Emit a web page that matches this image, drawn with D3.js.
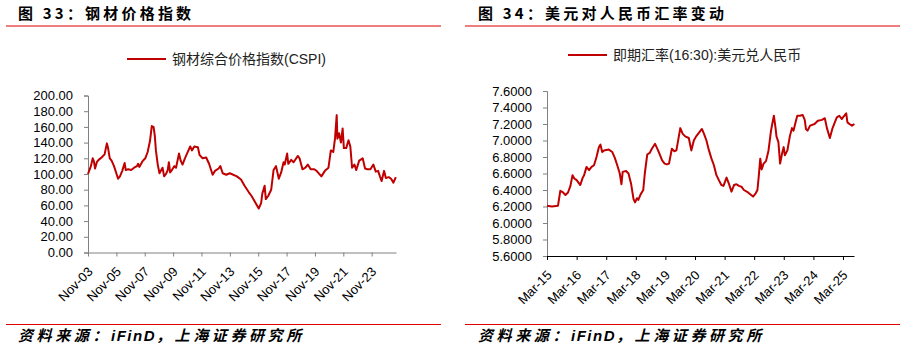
<!DOCTYPE html>
<html>
<head>
<meta charset="utf-8">
<script src="https://cdn.jsdelivr.net/npm/d3@7/dist/d3.min.js"></script>
<style>
  body { margin: 0; background: #fff; }
  svg { display: block; }
  .tick text { font-family: "Liberation Sans", Arial, sans-serif; font-size: 13px; fill: #000; }
  .title { font-family: "Noto Sans CJK SC", sans-serif; font-weight: bold; font-size: 15px; letter-spacing: 3.2px; fill: #000; }
  .legend { font-family: "Liberation Sans", "Noto Sans CJK SC", sans-serif; font-size: 14px; fill: #222; }
  .source { font-family: "Liberation Sans", "Noto Sans CJK SC", sans-serif; font-weight: bold; font-style: italic; font-size: 15px; letter-spacing: 3.6px; fill: #000; }
  .source .latin { letter-spacing: 1.5px; }
</style>
</head>
<body>
<svg id="chart" width="905" height="351"></svg>
<script>

// 钢材综合价格指数(CSPI)
var cspiDates = ["2003-11-01","2004-01-15","2004-03-01","2004-04-01","2004-05-01","2004-06-15","2004-08-01","2004-10-15",
  "2005-01-01","2005-03-01","2005-04-01","2005-05-15","2005-07-01","2005-09-01","2005-12-15","2006-02-01","2006-04-01",
  "2006-06-01","2006-07-01","2006-09-01","2006-11-15","2007-02-01","2007-04-15","2007-05-15","2007-06-15","2007-09-01",
  "2007-11-15","2008-01-15","2008-03-15","2008-05-01","2008-06-15","2008-07-15","2008-08-15","2008-10-01","2008-11-15",
  "2009-02-01","2009-03-15","2009-05-01","2009-06-15","2009-07-15","2009-08-15","2009-10-01","2009-12-01","2010-01-15",
  "2010-04-01","2010-05-15","2010-07-01","2010-09-01","2010-12-01","2011-01-15","2011-03-01","2011-05-01","2011-08-01",
  "2011-09-15","2011-12-01","2012-03-01","2012-05-15","2012-08-15","2012-10-15","2013-01-15","2013-03-01","2013-05-01",
  "2013-08-01","2013-11-01","2014-05-01","2014-08-15","2014-11-15","2015-03-01","2015-05-15","2015-08-15","2015-11-15",
  "2016-01-15","2016-02-15","2016-04-15","2016-05-15","2016-07-15","2016-10-01","2016-12-01","2017-02-01","2017-04-15",
  "2017-06-15","2017-08-15","2017-09-15","2017-11-15","2017-12-15","2018-03-01","2018-05-01","2018-08-15","2018-10-01",
  "2018-12-15","2019-03-01","2019-05-01","2019-07-15","2019-10-15","2019-12-15","2020-04-15","2020-07-15","2020-10-15",
  "2020-12-15","2021-02-15","2021-04-01","2021-05-15","2021-06-01","2021-07-15","2021-09-01","2021-10-15","2021-11-15",
  "2022-01-15","2022-03-15","2022-05-01","2022-06-15","2022-08-15","2022-10-01","2022-12-15","2023-03-15","2023-05-15",
  "2023-07-15","2023-10-01","2023-12-15","2024-02-15","2024-04-15","2024-06-01","2024-07-15","2024-09-15","2024-11-01",
  "2025-01-15","2025-03-15","2025-05-15","2025-07-15"];
var cspiValues = [100,110,120,116,107,115,118,121,
  125,139,133,120,117,110,94,97,104,
  114,105,106,105,108,110,113,109,116,
  120,128,142,161,160,150,130,112,101,
  108,97,100,105,115,102,105,110,108,
  126,117,112,120,130,135,130,135,134,
  124,120,121,113,99,104,107,110,101,
  99,101,97,93,85,77,72,64,56,
  63,75,85,68,72,80,105,110,94,
  102,115,112,126,113,118,115,123,120,
  106,108,112,106,106,104,97,104,108,
  130,128,145,175,145,152,140,158,133,
  133,143,135,108,112,105,117,120,107,
  106,106,112,103,104,97,91,104,95,
  96,94,89,96];

// 即期汇率(16:30):美元兑人民币
var fxDates = ["2015-03-01","2015-05-01","2015-07-15","2015-08-12","2015-09-15","2015-10-15","2015-11-15","2015-12-15",
  "2016-01-10","2016-02-01","2016-03-01","2016-04-15","2016-05-15","2016-06-01","2016-07-01","2016-08-01","2016-09-01",
  "2016-10-01","2016-11-01","2016-12-01","2016-12-20","2017-01-10","2017-02-01","2017-04-01","2017-05-15","2017-06-15",
  "2017-07-15","2017-08-15","2017-09-05","2017-09-20","2017-11-01","2017-12-01","2018-01-01","2018-02-01","2018-02-20",
  "2018-03-15","2018-04-01","2018-05-01","2018-06-01","2018-06-20","2018-07-20","2018-08-20","2018-09-15","2018-10-25",
  "2018-12-01","2019-01-20","2019-02-20","2019-03-20","2019-04-15","2019-05-20","2019-06-20","2019-07-15","2019-09-01",
  "2019-10-01","2019-11-01","2019-12-15","2020-01-15","2020-02-15","2020-03-15","2020-04-15","2020-05-25","2020-06-20",
  "2020-07-20","2020-08-20","2020-09-20","2020-10-20","2020-11-20","2020-12-20","2021-01-20","2021-02-15","2021-03-25",
  "2021-04-25","2021-05-25","2021-06-25","2021-07-25","2021-08-25","2021-09-25","2021-10-25","2021-12-15","2022-02-15",
  "2022-03-20","2022-04-10","2022-04-25","2022-05-15","2022-06-01","2022-06-25","2022-07-25","2022-08-25","2022-09-25",
  "2022-10-10","2022-10-30","2022-11-20","2022-12-01","2022-12-25","2023-01-15","2023-02-10","2023-02-28","2023-03-15",
  "2023-04-15","2023-05-15","2023-06-10","2023-06-30","2023-07-25","2023-08-15","2023-09-15","2023-10-20","2023-11-15",
  "2023-11-30","2023-12-20","2024-01-20","2024-03-15","2024-04-25","2024-06-15","2024-07-20","2024-08-15","2024-09-20",
  "2024-10-20","2024-11-20","2024-12-15","2025-01-15","2025-02-15","2025-03-01","2025-04-10","2025-04-25","2025-05-20",
  "2025-06-20","2025-07-20"];
var fxValues = [6.21,6.20,6.21,6.39,6.37,6.34,6.37,6.45,
  6.58,6.54,6.52,6.46,6.55,6.58,6.68,6.64,6.68,
  6.70,6.80,6.92,6.95,6.86,6.88,6.89,6.86,6.79,
  6.70,6.60,6.47,6.62,6.63,6.60,6.48,6.29,6.25,
  6.30,6.28,6.35,6.40,6.60,6.83,6.85,6.90,6.96,
  6.88,6.76,6.72,6.71,6.72,6.90,6.87,6.88,7.15,
  7.08,7.05,7.03,6.88,7.00,7.05,7.09,7.14,7.08,
  7.00,6.88,6.78,6.70,6.58,6.52,6.46,6.45,6.55,
  6.47,6.38,6.46,6.47,6.45,6.44,6.40,6.37,6.32,
  6.36,6.40,6.55,6.78,6.65,6.72,6.75,6.88,7.12,
  7.20,7.30,7.15,7.05,6.98,6.72,6.85,6.92,6.82,
  6.88,7.05,7.15,7.12,7.22,7.30,7.30,7.31,7.25,
  7.14,7.12,7.18,7.20,7.24,7.25,7.27,7.15,7.03,
  7.14,7.22,7.28,7.30,7.26,7.28,7.33,7.22,7.20,
  7.18,7.20];

var cspiTicks = [0, 20, 40, 60, 80, 100, 120, 140, 160, 180, 200];
var fxTicks = [5.6, 5.8, 6.0, 6.2, 6.4, 6.6, 6.8, 7.0, 7.2, 7.4, 7.6];

var parse = d3.timeParse("%Y-%m-%d");
var fmt = d3.timeFormat("%b-%y");

var svg = d3.select("#chart");

function drawPanel(opt) {
    var data = opt.dates.map((d, i) => ({ date: parse(d), value: opt.values[i] }));

    // title + red rule
    svg.append("text").attr("class", "title")
        .attr("x", opt.titleX).attr("y", 19).text(opt.title);
    svg.append("line")
        .attr("x1", opt.ruleX[0]).attr("x2", opt.ruleX[1])
        .attr("y1", 26).attr("y2", 26)
        .attr("stroke", "#e00000").attr("stroke-width", 1.2);

    // source + red rule
    svg.append("line")
        .attr("x1", opt.ruleX[0]).attr("x2", opt.ruleX[1])
        .attr("y1", 324.5).attr("y2", 324.5)
        .attr("stroke", "#e00000").attr("stroke-width", 1.2);
    var src = svg.append("text").attr("class", "source")
        .attr("x", opt.titleX).attr("y", 341);
    src.append("tspan").text("资料来源：");
    src.append("tspan").attr("class", "latin").text("iFinD");
    src.append("tspan").text("，上海证券研究所");

    var x = d3.scaleTime().domain(opt.xDomain).range(opt.xRange);
    var y = d3.scaleLinear().domain(opt.yDomain).range(opt.yRange);

    var yAxis = svg.append("g")
        .attr("transform", "translate(" + opt.xRange[0] + ",0)")
        .call(d3.axisLeft(y).tickValues(opt.yTicks).tickSize(4).tickPadding(11).tickFormat(d3.format(opt.yFormat)));
    yAxis.select(".domain").attr("stroke", opt.yAxisColor);
    yAxis.selectAll(".tick line").attr("stroke", opt.yAxisColor);

    var xAxis = svg.append("g")
        .attr("transform", "translate(0," + opt.yRange[0] + ")")
        .call(d3.axisBottom(x).tickValues(opt.xTicks).tickSize(4).tickSizeOuter(0).tickFormat(fmt));
    xAxis.select(".domain").attr("stroke", opt.xAxisColor);
    xAxis.selectAll(".tick line").attr("stroke", opt.xAxisColor);
    xAxis.selectAll(".tick text")
        .attr("text-anchor", "end")
        .attr("dy", null)
        .attr("y", 0)
        .attr("transform", "translate(5,20) rotate(-45)");

    var line = d3.line().x(d => x(d.date)).y(d => y(d.value));
    svg.append("path").datum(data)
        .attr("fill", "none")
        .attr("stroke", "#c00000")
        .attr("stroke-width", 2)
        .attr("stroke-linejoin", "round")
        .attr("d", line);

    // legend
    svg.append("line")
        .attr("x1", opt.legendX).attr("x2", opt.legendX + 39)
        .attr("y1", opt.legendY).attr("y2", opt.legendY)
        .attr("stroke", "#c00000").attr("stroke-width", 2);
    svg.append("text").attr("class", "legend")
        .attr("x", opt.legendX + 45).attr("y", opt.legendY + 5).text(opt.legendText);
}

drawPanel({
    title: "图 33：钢材价格指数",
    titleX: 18, ruleX: [6, 441],
    dates: cspiDates, values: cspiValues,
    xDomain: [parse("2003-11-01"), parse("2025-07-20")], xRange: [88, 396],
    yDomain: [0, 200], yRange: [252.5, 95.5],
    yTicks: cspiTicks, yFormat: ".2f",
    xTicks: d3.range(2003, 2024, 2).map(yr => new Date(yr, 10, 1)),
    yAxisColor: "#808080", xAxisColor: "#808080",
    legendX: 127, legendY: 59, legendText: "钢材综合价格指数(CSPI)"
});

drawPanel({
    title: "图 34：美元对人民币汇率变动",
    titleX: 478, ruleX: [465, 900],
    dates: fxDates, values: fxValues,
    xDomain: [parse("2015-03-01"), parse("2025-07-15")], xRange: [547, 854],
    yDomain: [5.6, 7.6], yRange: [256, 91],
    yTicks: fxTicks, yFormat: ".4f",
    xTicks: d3.range(2015, 2026).map(yr => new Date(yr, 2, 1)),
    yAxisColor: "#808080", xAxisColor: "#000",
    legendX: 568, legendY: 55, legendText: "即期汇率(16:30):美元兑人民币"
});

</script>
</body>
</html>
